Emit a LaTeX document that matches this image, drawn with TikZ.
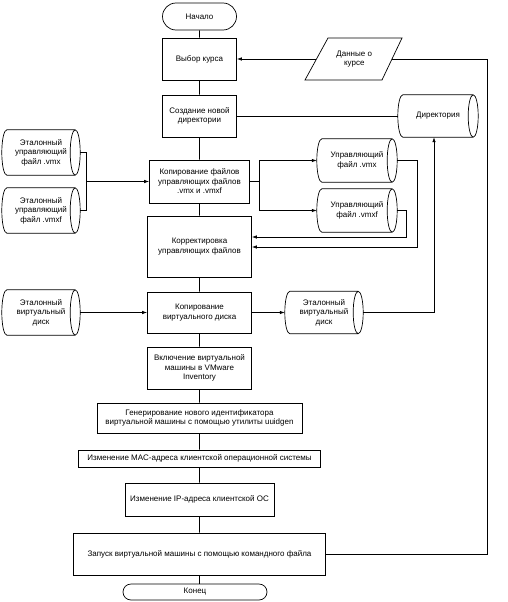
\documentclass[tikz,border=0pt]{standalone}
\usepackage{fontspec}
\setmainfont{Liberation Sans}
\usetikzlibrary{shapes.misc,arrows.meta,calc}
\newcommand\cylshape[1]{%
 \draw[line] let \p1=(#1.north),\p2=(#1.south),\n1={(\y1-\y2)/2} in
  ($(#1.south east)+(-5,0)$) -- ($(#1.south west)+(5,0)$)
  arc[start angle=270,end angle=90,x radius=5pt,y radius=\n1]
  -- ($(#1.north east)+(-5,0)$)
  ($(#1.east)+(-5,0)$) ellipse[x radius=5pt,y radius=\n1];}
\begin{document}
\begin{tikzpicture}[x=1pt,y=1pt,
 font=\fontsize{8}{9.5}\selectfont,
 every node/.style={align=center,inner sep=0pt},
 line/.style={line width=0.7pt},
 proc/.style={draw,line,rectangle},
 term/.style={draw,line,rounded rectangle},
 cyl/.style={rectangle},
 arr/.style={line,-{Latex[length=5pt,width=3.5pt]}},
]
\useasboundingbox (0,0) rectangle (507,-602);
% main column
\node[term,minimum width=74,minimum height=27] (start) at (199.5,-16.5) {Начало};
\node[proc,minimum width=74,minimum height=42] (vybor) at (199.5,-59) {Выбор курса};
\node[proc,minimum width=74,minimum height=42] (sozd) at (199.5,-116) {Создание новой\\директории};
\node[proc,minimum width=100,minimum height=43] (kopf) at (199.5,-181.5) {Копирование файлов\\управляющих файлов\\.vmx и .vmxf};
\node[proc,minimum width=104,minimum height=61] (korr) at (199.5,-246.5) {Корректировка\\управляющих файлов};
\node[proc,minimum width=104,minimum height=41] (kopd) at (199.5,-312.5) {Копирование\\виртуального диска};
\node[proc,minimum width=104,minimum height=42] (vkl) at (199.5,-368) {Включение виртуальной\\машины в VMware\\Inventory};
\node[proc,minimum width=205,minimum height=30] (gen) at (199.5,-418) {Генерирование нового идентификатора\\виртуальной машины с помощью утилиты uuidgen};
\node[proc,minimum width=242,minimum height=17] (mac) at (199.5,-458.5) {Изменение MAC-адреса клиентской операционной системы};
\node[proc,minimum width=149,minimum height=33] (ip) at (199.5,-499.5) {Изменение IP-адреса клиентской ОС};
\node[proc,minimum width=252,minimum height=42] (zap) at (199.5,-554) {Запуск виртуальной машины с помощью командного файла};
\node[term,minimum width=144,minimum height=16] (end) at (195,-592) {Конец};
% data (parallelogram)
\node[minimum width=75.5,minimum height=42] (data) at (354.25,-59) {Данные о\\курсе};
\draw[line] (328,-38) -- (402,-38) -- (382,-80) -- (305,-80) -- cycle;
% cylinders
\node[cyl,minimum width=80,minimum height=42] (dir) at (438,-116) {Директория};
\node[cyl,minimum width=78,minimum height=45] (etvmx) at (41,-152.5) {Эталонный\\управляющий\\файл .vmx};
\node[cyl,minimum width=78,minimum height=45] (etvmxf) at (41,-210.5) {Эталонный\\управляющий\\файл .vmxf};
\node[cyl,minimum width=80,minimum height=43] (uvmx) at (357,-160.5) {Управляющий\\файл .vmx};
\node[cyl,minimum width=80,minimum height=43] (uvmxf) at (357,-210.5) {Управляющий\\файл .vmxf};
\node[cyl,minimum width=78,minimum height=45] (edl) at (41,-312.5) {Эталонный\\виртуальный\\диск};
\node[cyl,minimum width=78,minimum height=42] (edr) at (324,-312.5) {Эталонный\\виртуальный\\диск};
\foreach \q in {dir,etvmx,etvmxf,uvmx,uvmxf,edl,edr} {\cylshape{\q}}
% main flow
\draw[line] (start) -- (vybor) -- (sozd) -- (kopf) -- (korr) -- (kopd) -- (vkl) -- (gen) -- (mac) -- (ip) -- (zap);
\draw[line] (zap.south) -- (zap.south |- end.north);
% connectors
\draw[arr] (data.west) -- (vybor.east);
\coordinate (c4) at (487,-59);
\coordinate (c5) at (487,-554);
\draw[line] (zap.east) -- (c5) -- (c4) -- (data.east);
\draw[line] (sozd.east) -- (dir.west);
\coordinate (j1) at (86,-181.5);
\draw[line] (etvmx.east) -| (j1);
\draw[line] (etvmxf.east) -| (j1);
\draw[arr] (j1) -- (kopf.west);
\coordinate (j2) at (259,-181.5);
\draw[line] (kopf.east) -- (j2);
\draw[arr] (j2) |- (uvmx.west);
\draw[arr] (j2) |- (uvmxf.west);
\coordinate (c1) at (417,-247);
\coordinate (c2) at (406,-237);
\draw[arr] (uvmx.east) -| (c1) -- (c1 -| korr.east);
\draw[arr] (uvmxf.east) -| (c2) -- (c2 -| korr.east);
\draw[arr] (edl.east) -- (kopd.west);
\draw[arr] (kopd.east) -- (edr.west);
\coordinate (c3) at (434,-312.5);
\draw[arr] (edr.east) -- (c3) -- (c3 |- dir.south);
\end{tikzpicture}
\end{document}
